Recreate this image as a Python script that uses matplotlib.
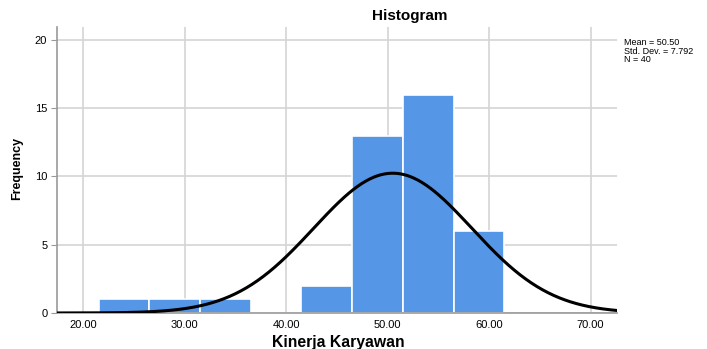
import numpy as np
import matplotlib
matplotlib.use("Agg")
import matplotlib.pyplot as plt

# data
bin_edges = [21.5, 26.5, 31.5, 36.5, 41.5, 46.5, 51.5, 56.5, 61.5]
counts = [1, 1, 1, 0, 2, 13, 16, 6]
mean = 50.50
std_dev = 7.792
n = 40
x_ticks = [20, 30, 40, 50, 60, 70]
y_ticks = [0, 5, 10, 15, 20]

plt.rcParams['font.family'] = ['Liberation Sans', 'DejaVu Sans']

fig = plt.figure(figsize=(7.07, 3.49), dpi=100)
ax = fig.add_axes([0.0806, 0.1032, 0.792, 0.8194])

ax.bar(bin_edges[:-1], counts, width=np.diff(bin_edges), align='edge',
       color='#5596e6', edgecolor='white', linewidth=1.2, zorder=2)

# normal curve scaled to counts
bw = bin_edges[1] - bin_edges[0]
xs = np.linspace(17.4, 72.6, 400)
ys = n * bw / (std_dev * np.sqrt(2 * np.pi)) * np.exp(-0.5 * ((xs - mean) / std_dev) ** 2)
ax.plot(xs, ys, color='black', linewidth=2.2, zorder=3)

ax.set_xlim(17.4, 72.6)
ax.set_ylim(0, 20.95)
ax.set_xticks(x_ticks)
ax.set_xticklabels([f"{t:.2f}" for t in x_ticks], fontsize=8)
ax.set_yticks(y_ticks)
ax.set_yticklabels([str(t) for t in y_ticks], fontsize=8)
ax.grid(True, color='#d4d4d4', linewidth=1.2, zorder=0)
ax.set_axisbelow(True)

for s in ['top', 'right']:
    ax.spines[s].set_visible(False)
ax.spines['left'].set_color('#999999')
ax.spines['bottom'].set_color('#999999')
ax.spines['left'].set_linewidth(1.2)
ax.spines['bottom'].set_linewidth(1.2)
ax.tick_params(axis='x', length=0, pad=5)
ax.tick_params(axis='y', length=4, color='#999999', pad=3)

# titles placed like SPSS output
fig.text(410 / 707, 1 - 16 / 349, 'Histogram', fontsize=11, fontweight='bold',
         ha='center', va='center')
fig.text(338 / 707, 1 - 342 / 349, 'Kinerja Karyawan', fontsize=11.3,
         fontweight='bold', ha='center', va='center')
fig.text(17 / 707, 1 - 168 / 349, 'Frequency', fontsize=9, fontweight='bold',
         ha='center', va='center', rotation=90)

fig.text(624 / 707, 1 - 38 / 349,
         f"Mean = {mean:.2f}\nStd. Dev. = {std_dev:.3f}\nN = {n}",
         fontsize=6.5, va='top', ha='left', linespacing=0.95)

fig.savefig('out.png', dpi=100)
